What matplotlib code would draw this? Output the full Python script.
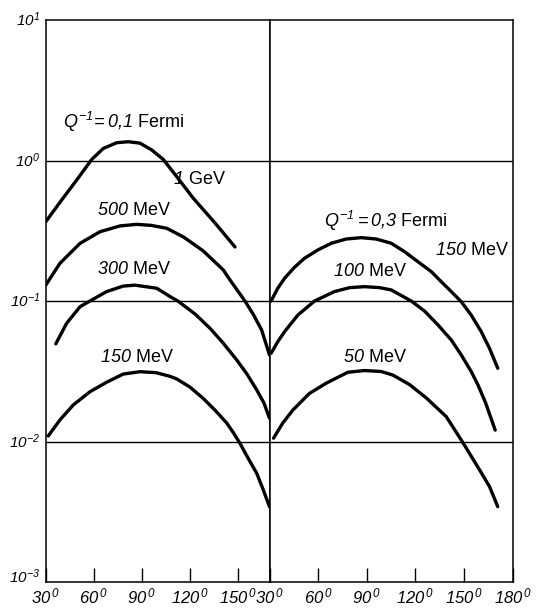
import matplotlib
matplotlib.use("Agg")
import matplotlib.pyplot as plt
from matplotlib.ticker import FixedLocator, FixedFormatter, NullLocator

plt.rcParams['font.family'] = ['Liberation Sans', 'DejaVu Sans']
# digits in mathtext come from the rm slot, so rm is italic and sf is upright
plt.rcParams['mathtext.fontset'] = 'custom'
plt.rcParams['mathtext.rm'] = 'Liberation Sans:italic'
plt.rcParams['mathtext.it'] = 'Liberation Sans:italic'
plt.rcParams['mathtext.sf'] = 'Liberation Sans'
plt.rcParams['mathtext.bf'] = 'Liberation Sans:bold'

# left panel, Q^-1 = 0.1 Fermi
theta_1gev = [30, 40.0, 49.4, 58.8, 66.0, 74.4, 81.7, 89.0, 96.3, 103.5, 111.9, 122.3, 135.9, 148.4]
val_1gev = [0.367, 0.525, 0.728, 1.02, 1.22, 1.34, 1.362, 1.33, 1.19, 1.02, 0.77, 0.54, 0.360, 0.243]

theta_500 = [30, 38.9, 51.5, 64.0, 76.5, 86.9, 96.0, 105.7, 116.2, 128.6, 141.1, 145.3, 154.7, 160.0, 165.1, 170]
val_500 = [0.130, 0.186, 0.258, 0.312, 0.343, 0.352, 0.346, 0.330, 0.286, 0.2275, 0.1667, 0.1415, 0.100, 0.080, 0.0623, 0.0414]

theta_300 = [36.3, 43.1, 51.5, 57.7, 68.1, 78.5, 85.8, 99.4, 107.7, 112.8, 123.4, 132.8, 140.9, 149.5, 155.9, 162.0, 166.5, 170]
val_300 = [0.0497, 0.0697, 0.0914, 0.1003, 0.117, 0.128, 0.130, 0.1236, 0.108, 0.100, 0.0811, 0.0641, 0.0505, 0.0382, 0.0303, 0.0234, 0.0189, 0.0147]

theta_150 = [31.6, 38.9, 47.3, 57.7, 68.1, 78.5, 89.0, 99.0, 107.7, 111.9, 120.2, 128.6, 136.3, 143.2, 147.5, 151.5, 156.5, 162.0, 165.9, 170]
val_150 = [0.0110, 0.0143, 0.0183, 0.0227, 0.0265, 0.0303, 0.0315, 0.0310, 0.0292, 0.0280, 0.0245, 0.0203, 0.0166, 0.0136, 0.01155, 0.00975, 0.00768, 0.00597, 0.00461, 0.00345]

# right panel, Q^-1 = 0.3 Fermi
theta_r150 = [31.0, 35.1, 39.3, 45.4, 51.6, 59.8, 68.1, 77.3, 86.6, 95.8, 105.1, 113.3, 121.5, 129.8, 135.9, 142.1, 148.3, 154.4, 160.6, 165.7, 170.8]
val_r150 = [0.1003, 0.1236, 0.1455, 0.1742, 0.2019, 0.2312, 0.2582, 0.2768, 0.2830, 0.2768, 0.2582, 0.2249, 0.1910, 0.1622, 0.1377, 0.1170, 0.0991, 0.0797, 0.0607, 0.0462, 0.0333]

theta_r100 = [31.0, 35.1, 39.3, 47.5, 57.8, 70.1, 79.4, 88.6, 97.9, 105.1, 117.4, 125.6, 133.9, 142.1, 148.3, 154.4, 158.5, 163.3, 169.2]
val_r100 = [0.0426, 0.0515, 0.0607, 0.0797, 0.1003, 0.117, 0.1248, 0.1268, 0.1248, 0.1202, 0.1003, 0.0851, 0.0678, 0.0530, 0.0414, 0.0316, 0.0255, 0.0189, 0.0121]

theta_r50 = [32.5, 38.2, 44.4, 54.7, 65.0, 78.3, 88.6, 98.9, 106.1, 116.4, 126.7, 139.0, 149.2, 159.6, 165.7, 170.8]
val_r50 = [0.0106, 0.0136, 0.0168, 0.0221, 0.0261, 0.0312, 0.0321, 0.0316, 0.0298, 0.0255, 0.0205, 0.0151, 0.0099, 0.0063, 0.0048, 0.00345]

y_ticks = [1e1, 1e0, 1e-1, 1e-2, 1e-3]
y_labels = [r'$10^{1}$', r'$10^{0}$', r'$10^{-1}$', r'$10^{-2}$', r'$10^{-3}$']
left_xticks = [30, 60, 90, 120, 150]
right_xticks = [30, 60, 90, 120, 150, 180]


def deg_label(v):
    return r'$%d^{\,0}$' % v


def style_panel(ax, xmax, xticks):
    ax.set_yscale('log')
    ax.set_ylim(1e-3, 1e1)
    ax.set_xlim(30, xmax)
    for s in ax.spines.values():
        s.set_linewidth(1.1)
    for yv in [1e0, 1e-1, 1e-2]:
        ax.axhline(yv, color='black', lw=1.0)
    ax.xaxis.set_major_locator(FixedLocator(xticks))
    ax.xaxis.set_major_formatter(FixedFormatter([deg_label(v) for v in xticks]))
    ax.yaxis.set_major_locator(NullLocator())
    ax.yaxis.set_minor_locator(NullLocator())
    ax.tick_params(axis='x', direction='in', length=10, width=1, labelsize=12, pad=3)


fig = plt.figure(figsize=(5.36, 6.14), dpi=100)
ax_l = fig.add_axes([0.0853, 0.0516, 0.4175, 0.9158])
ax_r = fig.add_axes([0.5028, 0.0516, 0.4537, 0.9158])

line_kw = dict(color='black', lw=2.4, solid_capstyle='round', solid_joinstyle='round')

ax_l.plot(theta_1gev, val_1gev, **line_kw)
ax_l.plot(theta_500, val_500, **line_kw)
ax_l.plot(theta_300, val_300, **line_kw)
ax_l.plot(theta_150, val_150, **line_kw)
style_panel(ax_l, 170, left_xticks)

ax_r.plot(theta_r150, val_r150, **line_kw)
ax_r.plot(theta_r100, val_r100, **line_kw)
ax_r.plot(theta_r50, val_r50, **line_kw)
style_panel(ax_r, 180, right_xticks)

# decade labels on the left, the lowest one sits above the corner
for yv, lbl in zip(y_ticks, y_labels):
    dy = 4 if yv == 1e-3 else 0
    ax_l.annotate(lbl, xy=(0, yv), xycoords=('axes fraction', 'data'),
                  xytext=(-4, dy), textcoords='offset points',
                  ha='right', va='center', fontsize=11)

txt = dict(fontsize=13, ha='left', va='baseline')
ax_l.text(41, 1.70, r'$Q^{-1}\!=0{,}1\ \mathsf{Fermi}$', **txt)
ax_l.text(109.8, 0.682, r'$1\ \mathsf{GeV}$', **txt)
ax_l.text(61.9, 0.410, r'$500\ \mathsf{MeV}$', **txt)
ax_l.text(61.9, 0.156, r'$300\ \mathsf{MeV}$', **txt)
ax_l.text(64.0, 0.0372, r'$150\ \mathsf{MeV}$', **txt)

ax_r.text(63.9, 0.339, r'$Q^{-1}=0{,}3\ \mathsf{Fermi}$', **txt)
ax_r.text(131.8, 0.213, r'$150\ \mathsf{MeV}$', **txt)
ax_r.text(69.1, 0.151, r'$100\ \mathsf{MeV}$', **txt)
ax_r.text(75.2, 0.0372, r'$50\ \mathsf{MeV}$', **txt)

fig.savefig('out.png', dpi=100)
